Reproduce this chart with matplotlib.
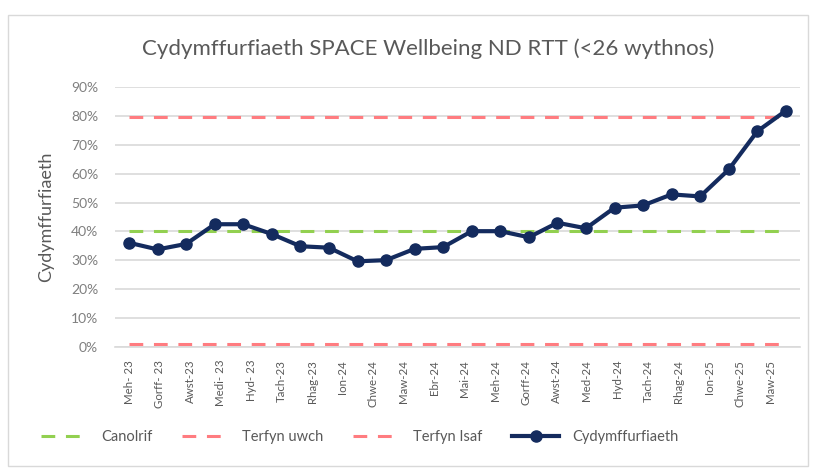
import numpy as np
import matplotlib.pyplot as plt
from matplotlib.patches import Rectangle
from matplotlib.ticker import PercentFormatter

plt.rcParams['font.family'] = ['Lato', 'DejaVu Sans']

# month labels on the category axis
months = ["Meh- 23", "Gorff- 23", "Awst-23", "Medi- 23", "Hyd- 23", "Tach-23", "Rhag-23",
          "Ion-24", "Chwe-24", "Maw-24", "Ebr-24", "Mai-24", "Meh-24", "Gorff-24",
          "Awst-24", "Med-24", "Hyd-24", "Tach-24", "Rhag-24", "Ion-25", "Chwe-25", "Maw-25"]

# compliance (%)
compliance = [36.1, 33.8, 35.7, 42.5, 42.5, 39.1, 34.9, 34.4, 29.7, 30.1, 34.0, 34.6,
              40.1, 40.1, 38.0, 43.0, 41.1, 48.2, 49.0, 52.8, 52.1, 61.4, 74.6, 81.7]
median_val = 40.1
upper_limit = 79.4
lower_limit = 1.1

n = len(compliance)
x = np.arange(n)
comp = np.array(compliance) / 100

grey = "#595959"

fig = plt.figure(figsize=(8.14, 4.71), dpi=100)
ax = fig.add_axes([0.141, 0.2626, 0.842, 0.5534])

# chart border
fig.patches.append(Rectangle((8/814, 5/471), 800/814, 451/471, transform=fig.transFigure,
                             fill=False, edgecolor="#D9D9D9", lw=1))

dash = (4.5, 3.5)
ax.plot(x, np.full(n, median_val / 100), color="#92D050", lw=2.2, dashes=dash, label="Canolrif")
ax.plot(x, np.full(n, upper_limit / 100), color="#FF7C80", lw=2.2, dashes=dash, label="Terfyn uwch")
ax.plot(x, np.full(n, lower_limit / 100), color="#FF7C80", lw=2.2, dashes=dash, label="Terfyn Isaf")
ax.plot(x, comp, color="#142B5E", lw=3, marker="o", ms=8, label="Cydymffurfiaeth", zorder=5)

ax.set_xlim(-0.5, n - 0.5)
ax.set_ylim(0, 0.9)
ax.set_yticks(np.arange(0, 0.91, 0.1))
ax.yaxis.set_major_formatter(PercentFormatter(1.0, decimals=0))
ax.grid(axis="y", color="#D9D9D9", lw=1.2)
ax.set_axisbelow(True)
for s in ["top", "right", "left"]:
    ax.spines[s].set_visible(False)
ax.spines["bottom"].set_color("#D9D9D9")
ax.spines["bottom"].set_linewidth(1.2)

ax.set_xticks(np.linspace(0, 22.45, len(months)))
ax.set_xticklabels(months, rotation=90, fontsize=8.3, color=grey)
ax.tick_params(axis="x", length=0, pad=9)
ax.tick_params(axis="y", length=0, labelsize=10, colors="#7F7F7F", pad=12)

ax.set_ylabel("Cydymffurfiaeth", fontsize=13, color=grey, labelpad=12)
fig.text(0.526, 0.897, "Cydymffurfiaeth SPACE Wellbeing ND RTT (<26 wythnos)",
         ha="center", va="center", fontsize=16, color=grey)

fig.legend(loc="center", bbox_to_anchor=(0.442, 0.072), ncol=4, frameon=False,
           fontsize=10.5, labelcolor=grey, handlelength=3.2, columnspacing=2.05, handletextpad=0.9)

plt.savefig("out.png", dpi=100)
